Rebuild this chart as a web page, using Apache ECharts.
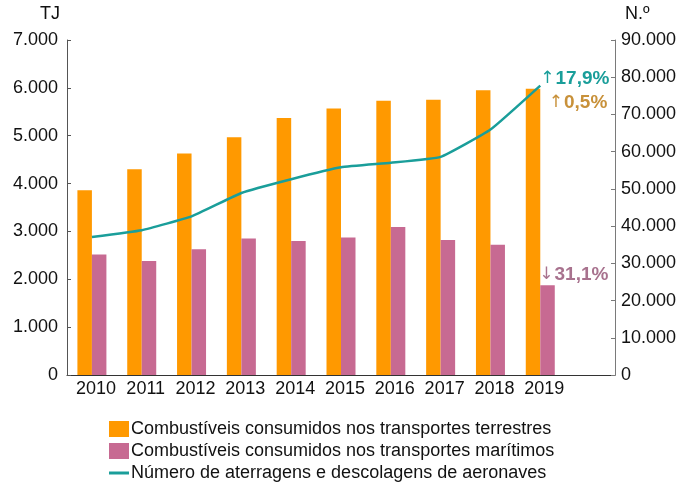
<!DOCTYPE html>
<html>
<head>
<meta charset="utf-8">
<script src="https://cdn.jsdelivr.net/npm/echarts@6/dist/echarts.min.js"></script>
<style>
  html, body { margin: 0; padding: 0; background: #fff; }
  #chart { width: 682px; height: 488px; }
</style>
</head>
<body>
<div id="chart"></div>
<script>
// Anos (a categoria final fica vazia para dar espaço às anotações)
const years = ['2010', '2011', '2012', '2013', '2014', '2015', '2016', '2017', '2018', '2019'];
const categories = years.concat(['']);

// Combustíveis consumidos (TJ)
const terrestres = [3860, 4300, 4630, 4970, 5370, 5570, 5730, 5750, 5950, 5980];
const maritimos = [2520, 2380, 2630, 2850, 2800, 2875, 3090, 2820, 2720, 1874];

// Número de aterragens e descolagens (N.º)
const aeronaves = [37100, 38900, 42600, 48900, 52600, 55800, 57000, 58600, 65950, 77760];

// Eixos
const leftTicks = { min: 0, max: 7000, interval: 1000 };
const rightTicks = { min: 0, max: 90000, interval: 10000 };

const FONT = "'Liberation Sans', Arial, sans-serif";
const C_TERR = '#ff9900';
const C_MAR = '#c76a92';
const C_AER = '#1a9e9a';

function fmtThousands(v) {
  return String(v).replace(/\B(?=(\d{3})+(?!\d))/g, '.');
}
// Variação percentual entre os dois últimos anos (seta + valor, em rich text)
function variation(arr) {
  const n = arr.length;
  const p = (arr[n - 1] / arr[n - 2] - 1) * 100;
  const arrow = p >= 0 ? '\u2191' : '\u2193';
  return '{a|' + arrow + '}{b|' + Math.abs(p).toFixed(1).replace('.', ',') + '%}';
}
function richFor(color) {
  return {
    a: { fontFamily: "'DejaVu Sans', sans-serif", fontSize: 17, color: color, padding: [0, 1, 0, 0] },
    b: { fontFamily: FONT, fontSize: 19, fontWeight: 'bold', color: color }
  };
}

const last = years.length - 1;
const labelBase = { show: true, align: 'left', verticalAlign: 'middle' };

const terrData = terrestres.map((v, i) => i === last ? {
  value: v,
  label: Object.assign({}, labelBase, { position: [23, 14], rich: richFor('#c8913a'), formatter: variation(terrestres) })
} : v);
const marData = maritimos.map((v, i) => i === last ? {
  value: v,
  label: Object.assign({}, labelBase, { position: [-1, -11], rich: richFor('#a8728e'), formatter: variation(maritimos) })
} : v);

const chart = echarts.init(document.getElementById('chart'), null, { renderer: 'canvas' });

chart.setOption({
  backgroundColor: '#ffffff',
  animation: false,
  textStyle: { fontFamily: FONT },
  grid: { left: 67, right: 67, top: 40, bottom: 113 },
  legend: {
    orient: 'vertical',
    left: 104,
    top: 415,
    height: 80,
    itemWidth: 20,
    itemHeight: 16,
    itemGap: 4,
    textStyle: { fontFamily: FONT, fontSize: 18, lineHeight: 16, color: '#111', padding: [0, 0, 0, -3] },
    data: [
      { name: 'Combustíveis consumidos nos transportes terrestres', icon: 'rect' },
      { name: 'Combustíveis consumidos nos transportes marítimos', icon: 'rect' },
      { name: 'Número de aterragens e descolagens de aeronaves', icon: 'path://M0,0H20V3H0Z' }
    ]
  },
  xAxis: {
    type: 'category',
    data: categories,
    boundaryGap: true,
    axisLine: { lineStyle: { color: '#333', width: 1 } },
    axisTick: { inside: true, length: 4, lineStyle: { color: '#333' } },
    axisLabel: { color: '#111', fontSize: 18, margin: 5, padding: [0, 0, 0, 8], interval: 0 }
  },
  yAxis: [
    {
      type: 'value',
      min: leftTicks.min, max: leftTicks.max, interval: leftTicks.interval,
      name: 'TJ',
      nameLocation: 'end',
      nameGap: 17,
      nameTextStyle: { color: '#111', fontSize: 18, align: 'right', padding: [0, 7, 0, 0] },
      axisLine: { show: true, lineStyle: { color: '#555' } },
      axisTick: { show: true, inside: true, length: 4, lineStyle: { color: '#555' } },
      splitLine: { show: false },
      axisLabel: { color: '#111', fontSize: 18, margin: 9, formatter: fmtThousands }
    },
    {
      type: 'value',
      position: 'right',
      min: rightTicks.min, max: rightTicks.max, interval: rightTicks.interval,
      name: 'N.º',
      nameLocation: 'end',
      nameGap: 17,
      nameTextStyle: { color: '#111', fontSize: 18, align: 'left', padding: [0, 0, 0, 10] },
      axisLine: { show: true, lineStyle: { color: '#7a7a7a' } },
      axisTick: { show: true, inside: true, length: 4, lineStyle: { color: '#7a7a7a' } },
      splitLine: { show: false },
      axisLabel: { color: '#111', fontSize: 18, margin: 6, formatter: fmtThousands }
    }
  ],
  series: [
    {
      name: 'Combustíveis consumidos nos transportes terrestres',
      type: 'bar',
      yAxisIndex: 0,
      barWidth: 14.5,
      barGap: '0%',
      itemStyle: { color: C_TERR },
      data: terrData
    },
    {
      name: 'Combustíveis consumidos nos transportes marítimos',
      type: 'bar',
      yAxisIndex: 0,
      barWidth: 14.5,
      barGap: '0%',
      itemStyle: { color: C_MAR },
      data: marData
    },
    {
      name: 'Número de aterragens e descolagens de aeronaves',
      type: 'line',
      yAxisIndex: 1,
      symbol: 'none',
      smooth: 0.12,
      lineStyle: { color: C_AER, width: 2.5 },
      itemStyle: { color: C_AER },
      endLabel: {
        show: true,
        distance: 0,
        offset: [0, -7],
        rich: richFor(C_AER),
        formatter: () => variation(aeronaves)
      },
      data: aeronaves
    }
  ]
});
</script>
</body>
</html>
